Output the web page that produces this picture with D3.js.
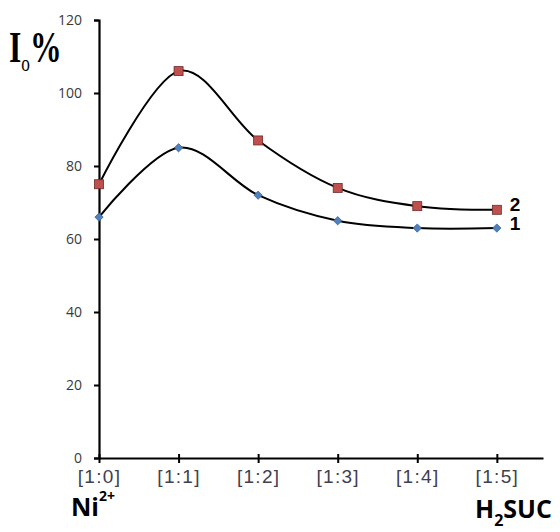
<!DOCTYPE html>
<html>
<head>
<meta charset="utf-8">
<script src="https://cdn.jsdelivr.net/npm/d3@7"></script>
<style>
  body { margin: 0; background: #fff; }
  svg { display: block; }
</style>
</head>
<body>
<svg id="chart" width="560" height="532"></svg>
<script>
// data
var categories = ["[1:0]", "[1:1]", "[1:2]", "[1:3]", "[1:4]", "[1:5]"];
var series1 = [66, 85, 72, 65, 63, 63];
var series2 = [75, 106, 87, 74, 69, 68];
var yTicks = [0, 20, 40, 60, 80, 100, 120];

var svg = d3.select("#chart");

// plot frame
var x0 = 99, x1 = 543, yTop = 20, yBot = 458;

var x = d3.scaleLinear()
    .domain([0, 5.58])
    .range([x0, x1]);

var y = d3.scaleLinear()
    .domain([0, 120])
    .range([yBot, yTop]);

// y axis
var yAxis = svg.append("g")
    .attr("transform", "translate(" + x0 + ",0)")
    .call(d3.axisLeft(y).tickValues(yTicks).tickSize(5).tickPadding(12));
yAxis.select(".domain").attr("stroke", "#000").attr("stroke-width", 2.2);
yAxis.selectAll(".tick line").attr("stroke", "#000").attr("stroke-width", 2);
yAxis.selectAll(".tick text")
    .attr("font-family", "Open Sans, sans-serif")
    .attr("font-size", 14)
    .attr("fill", "#3a3a3a");

// x axis
var xAxis = svg.append("g")
    .attr("transform", "translate(0," + yBot + ")")
    .call(d3.axisBottom(x)
        .tickValues(d3.range(categories.length))
        .tickFormat(i => categories[i])
        .tickSize(5).tickPadding(7).tickSizeOuter(0));
xAxis.select(".domain").attr("stroke", "#000").attr("stroke-width", 2.2);
xAxis.selectAll(".tick line").attr("stroke", "#000").attr("stroke-width", 2).attr("y1", -4);
xAxis.selectAll(".tick text")
    .attr("font-family", "Liberation Sans, Arial, sans-serif")
    .attr("font-size", 19)
    .attr("letter-spacing", 1.3)
    .attr("fill", "#404050");

// smoothed lines
var line = d3.line()
    .x((d, i) => x(i))
    .y(d => y(d))
    .curve(d3.curveCardinal.tension(0));

[series1, series2].forEach(function (s) {
    svg.append("path")
        .datum(s)
        .attr("d", line)
        .attr("fill", "none")
        .attr("stroke", "#000")
        .attr("stroke-width", 2);
});

// markers
svg.append("g").selectAll("path")
    .data(series1)
    .enter().append("path")
    .attr("d", d3.symbol().type(d3.symbolDiamond2).size(44))
    .attr("transform", (d, i) => "translate(" + x(i) + "," + y(d) + ")")
    .attr("fill", "#4f81bd")
    .attr("stroke", "#3a6496")
    .attr("stroke-width", 0.8);

svg.append("g").selectAll("rect")
    .data(series2)
    .enter().append("rect")
    .attr("x", (d, i) => x(i) - 4.5)
    .attr("y", d => y(d) - 4.5)
    .attr("width", 9)
    .attr("height", 9)
    .attr("fill", "#c0504d")
    .attr("stroke", "#6b2a28")
    .attr("stroke-width", 0.8);

// series labels
var last = categories.length - 1;
svg.append("text")
    .attr("x", x(last) + 13)
    .attr("y", y(series2[last]) + 1)
    .attr("font-family", "Liberation Sans, Arial, sans-serif")
    .attr("font-weight", "bold")
    .attr("font-size", 19)
    .text("2");
svg.append("text")
    .attr("x", x(last) + 13)
    .attr("y", y(series1[last]) + 2)
    .attr("font-family", "Liberation Sans, Arial, sans-serif")
    .attr("font-weight", "bold")
    .attr("font-size", 19)
    .text("1");

// y title: I_o %
var yt = svg.append("text")
    .attr("transform", "translate(9,62) scale(0.72,1)")
    .attr("font-family", "Liberation Serif, Times New Roman, serif")
    .attr("font-weight", "bold")
    .attr("font-size", 44);
yt.append("tspan").text("I");
yt.append("tspan").attr("dy", 9).attr("font-size", 24).attr("font-weight", "normal").text("o");
yt.append("tspan").attr("dy", -9).text("%");

// axis end labels
var ni = svg.append("text")
    .attr("x", 71)
    .attr("y", 516)
    .attr("font-family", "Open Sans, sans-serif")
    .attr("font-weight", "bold")
    .attr("font-size", 25);
ni.append("tspan").text("Ni");
ni.append("tspan").attr("dy", -15).attr("font-size", 14).text("2+");

var h = svg.append("text")
    .attr("x", 475)
    .attr("y", 518)
    .attr("font-family", "Open Sans, sans-serif")
    .attr("font-weight", "bold")
    .attr("font-size", 25);
h.append("tspan").text("H");
h.append("tspan").attr("dy", 8).attr("font-size", 16).text("2");
h.append("tspan").attr("dy", -8).text("SUC");
</script>
</body>
</html>
